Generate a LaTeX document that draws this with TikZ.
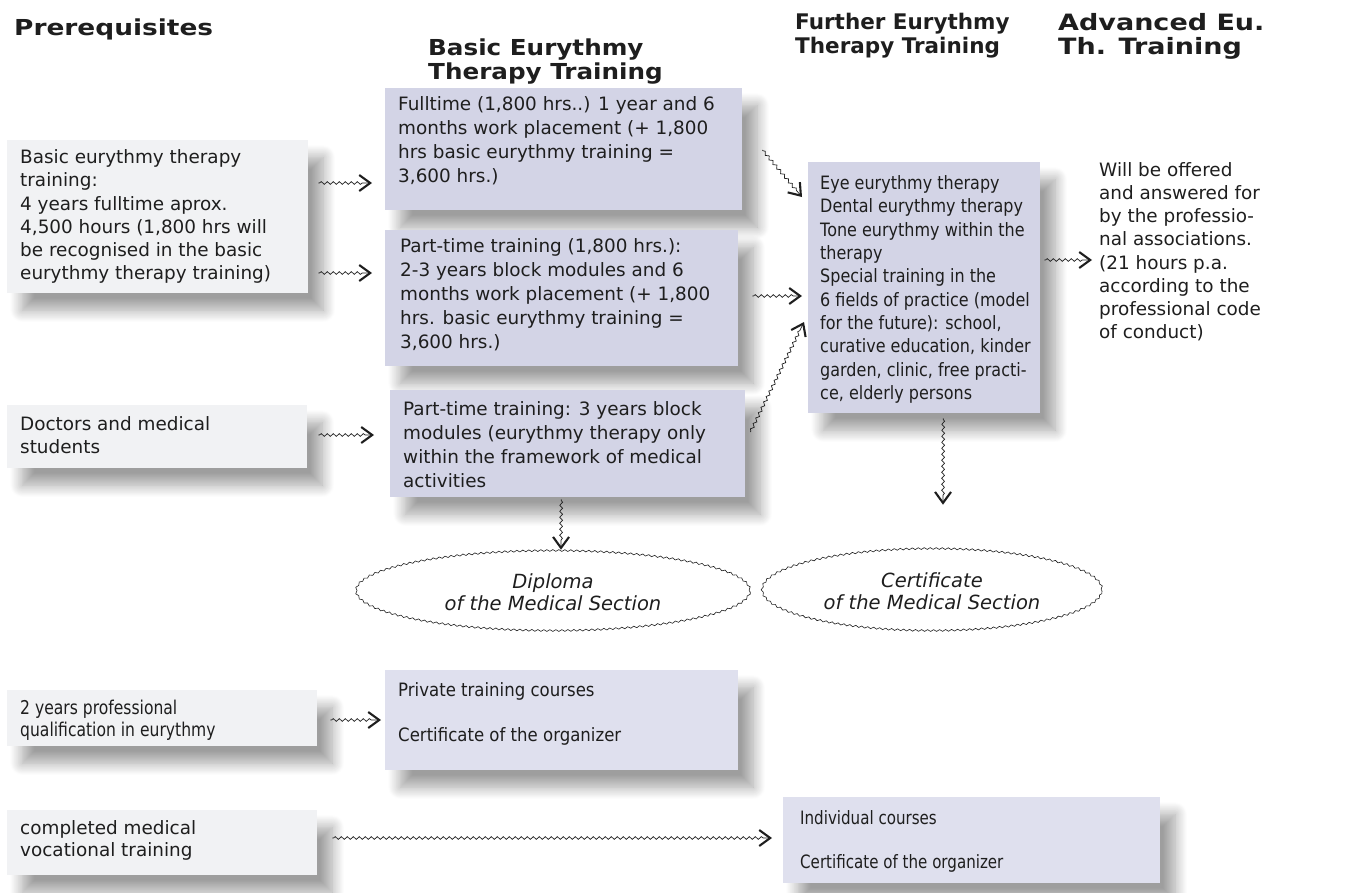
\documentclass[tikz,border=0pt]{standalone}
\usepackage{fontspec}
\setmainfont{DejaVu Sans}
\newfontfamily\fwide[FakeStretch=1.12]{DejaVu Sans}
\newfontfamily\fwider[FakeStretch=1.2]{DejaVu Sans}
\newfontfamily\fnarrow[FakeStretch=0.87]{DejaVu Sans}
\newfontfamily\fcond[FakeStretch=0.82]{DejaVu Sans}
\newfontfamily\fcondb[FakeStretch=0.9]{DejaVu Sans}
\usetikzlibrary{shapes.geometric,shadows.blur,decorations.pathmorphing,arrows.meta,calc}
\definecolor{graybox}{RGB}{241,242,244}
\definecolor{bluebox}{RGB}{211,212,230}
\definecolor{lightblue}{RGB}{223,224,238}
\definecolor{txt}{RGB}{30,30,30}
\begin{document}
\begin{tikzpicture}[x=1pt,y=-1pt,
  every node/.style={text=txt},
  hd/.style={anchor=north west, inner sep=0pt, align=left, font=\fwide\fontsize{22}{24}\selectfont\bfseries},
  shape box/.style={rectangle, anchor=north west, inner sep=0pt,
    blur shadow={shadow xshift=15pt, shadow yshift=-17pt, shadow blur radius=12pt, shadow blur steps=14, shadow opacity=38}},
  gbox/.style={shape box, fill=graybox},
  bbox/.style={shape box, fill=bluebox},
  lbox/.style={shape box, fill=lightblue},
  tx/.style={anchor=north west, inner sep=0pt, align=left, font=\fontsize{18.4}{23.2}\selectfont},
  txb/.style={tx, font=\fontsize{18.4}{24}\selectfont},
  wav/.style={decorate, decoration={snake, amplitude=1.4pt, segment length=6pt, pre length=1pt, post length=7pt},
    line width=0.7pt, draw=txt, -{Straight Barb[length=11pt,width=16pt,line width=2.1pt]}},
  cert/.style={ellipse, draw=txt, line width=0.6pt, inner sep=0pt, align=center,
    decorate, decoration={snake, amplitude=0.9pt, segment length=6pt},
    font=\fontsize{19.5}{22}\selectfont\itshape}
]
\useasboundingbox (0,0) rectangle (1350,892);

% headers
\node[hd, font=\fwider\fontsize{22}{24}\selectfont\bfseries] (h1) at (14,19) {Prerequisites};
\node[hd] (h2) at (428,39) {Basic Eurythmy\\Therapy Training};
\node[hd, font=\fontsize{21.5}{24}\selectfont\bfseries] (h3) at (795,13) {Further Eurythmy\\Therapy Training};
\node[hd, font=\fwider\fontsize{22.5}{24}\selectfont\bfseries] (h4) at (1058,13) {Advanced Eu.\\Th. Training};

% prerequisite boxes
\node[gbox, minimum width=301pt, minimum height=153pt] (p1) at (7,140) {};
\node[tx] (p1t) at ($(p1.north west)+(13,9.5)$)
  {Basic eurythmy therapy\\training:\\4 years fulltime aprox.\\4,500 hours (1,800 hrs will\\be recognised in the basic\\eurythmy therapy training)};
\node[gbox, minimum width=300pt, minimum height=63pt] (p2) at (7,405) {};
\node[tx, font=\fontsize{18.4}{23}\selectfont] (p2t) at ($(p2.north west)+(13,11.5)$)
  {Doctors and medical\\students};
\node[gbox, minimum width=310pt, minimum height=56pt] (p3) at (7,690) {};
\node[tx, font=\fcond\fontsize{19}{22}\selectfont] (p3t) at ($(p3.north west)+(13,9.5)$)
  {2 years professional\\qualification in eurythmy};
\node[gbox, minimum width=310pt, minimum height=65pt] (p4) at (7,810) {};
\node[tx, font=\fontsize{18.4}{22}\selectfont] (p4t) at ($(p4.north west)+(13,10.5)$)
  {completed medical\\vocational training};

% basic training boxes
\node[bbox, minimum width=357pt, minimum height=122pt] (b1) at (385,88) {};
\node[txb] (b1t) at ($(b1.north west)+(13,8.5)$)
  {Fulltime (1,800 hrs..) 1 year and 6\\months work placement (+ 1,800\\hrs basic eurythmy training =\\3,600 hrs.)};
\node[bbox, minimum width=353pt, minimum height=136pt] (b2) at (385,230) {};
\node[txb] (b2t) at ($(b2.north west)+(15,8.5)$)
  {Part-time training (1,800 hrs.):\\2-3 years block modules and 6\\months work placement (+ 1,800\\hrs. basic eurythmy training =\\3,600 hrs.)};
\node[bbox, minimum width=355pt, minimum height=107pt] (b3) at (390,390) {};
\node[txb] (b3t) at ($(b3.north west)+(13,11.5)$)
  {Part-time training: 3 years block\\modules (eurythmy therapy only\\within the framework of medical\\activities};
\node[lbox, minimum width=353pt, minimum height=100pt] (pr) at (385,670) {};
\node[tx, font=\fcondb\fontsize{18.4}{22.5}\selectfont] (prt) at ($(pr.north west)+(13,12.5)$)
  {Private training courses\\[22.5pt]Certificate of the organizer};

% further training
\node[bbox, minimum width=232pt, minimum height=251pt] (f) at (808,162) {};
\node[tx, font=\fnarrow\fontsize{18.4}{23.3}\selectfont] (ft) at ($(f.north west)+(12,13.5)$)
  {Eye eurythmy therapy\\Dental eurythmy therapy\\Tone eurythmy within the\\therapy\\Special training in the\\6 fields of practice (model\\for the future): school,\\curative education, kinder\\garden, clinic, free practi-\\ce, elderly persons};
\node[lbox, minimum width=377pt, minimum height=86pt] (ind) at (783,797) {};
\node[tx, font=\fcond\fontsize{18.4}{22.5}\selectfont] (indt) at ($(ind.north west)+(17,13.5)$)
  {Individual courses\\[21.5pt]Certificate of the organizer};

% advanced text
\node[tx, font=\fontsize{18.4}{23.1}\selectfont] (w) at (1099,162.5)
  {Will be offered\\and answered for\\by the professio-\\nal associations.\\(21 hours p.a.\\according to the\\professional code\\of conduct)};

% certificates
\node[cert, minimum width=394pt, minimum height=80pt] (dip) at (553,592)
  {Diploma\\of the Medical Section};
\node[cert, minimum width=340pt, minimum height=82pt] (cer) at (932,591)
  {Certificate\\of the Medical Section};

% connectors
\draw[wav] ($(p1.north east)+(10,43)$) -- ($(b1.north west)+(-13,95)$);
\draw[wav] ($(p1.north east)+(10,133)$) -- ($(b2.north west)+(-13,43)$);
\draw[wav] ($(p2.north east)+(11,30)$) -- ($(b3.north west)+(-16,45)$);
\draw[wav] ($(p3.north east)+(13,30)$) -- ($(pr.north west)+(-4,50)$);
\draw[wav] ($(p4.north east)+(15,28)$) -- ($(ind.north west)+(-11,41)$);
\draw[wav] ($(b1.north east)+(20,62)$) -- ($(f.north west)+(-6,35)$);
\draw[wav] ($(b2.north east)+(14,66)$) -- ($(f.north west)+(-6,134)$);
\draw[wav] ($(b3.north east)+(5,42)$) -- ($(f.north west)+(-4,160)$);
\draw[wav] ($(b3.south)+(-6.5,2)$) -- ($(dip.north)+(8,-2)$);
\draw[wav] ($(f.south)+(19,5)$) -- ($(cer.north)+(11,-45)$);
\draw[wav] ($(f.north east)+(4,98)$) -- ($(w.north west)+(-7,97.5)$);
\end{tikzpicture}
\end{document}
